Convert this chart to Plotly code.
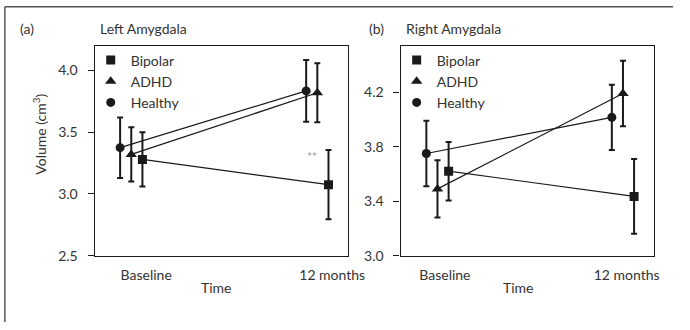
import plotly.graph_objects as go

# ---- data ----
time_labels = ["Baseline", "12 months"]
groups = ["Bipolar", "ADHD", "Healthy"]

left_bipolar = [3.28, 3.075]
left_bipolar_err = [0.22, 0.28]
left_adhd = [3.32, 3.82]
left_adhd_err = [0.22, 0.24]
left_healthy = [3.375, 3.835]
left_healthy_err = [0.245, 0.25]

right_bipolar = [3.62, 3.435]
right_bipolar_err = [0.215, 0.275]
right_adhd = [3.49, 4.19]
right_adhd_err = [0.21, 0.24]
right_healthy = [3.75, 4.015]
right_healthy_err = [0.24, 0.24]

left_ticks = [2.5, 3.0, 3.5, 4.0]
right_ticks = [3.0, 3.4, 3.8, 4.2]

# ---- style ----
FONT = "Lato, 'Open Sans', sans-serif"
INK = "#1a1a1a"
TXT = "#333333"
FS = 14
symbols = {"Bipolar": "square", "ADHD": "triangle-up", "Healthy": "circle"}
sizes = {"Bipolar": 9, "ADHD": 10, "Healthy": 9}
offsets = {"Bipolar": 0.0, "ADHD": -0.06, "Healthy": -0.12}
base_x = [0, 1]

fig = go.Figure()

panels = [
    ("x", "y", "legend", {"Bipolar": (left_bipolar, left_bipolar_err),
                          "ADHD": (left_adhd, left_adhd_err),
                          "Healthy": (left_healthy, left_healthy_err)}),
    ("x2", "y2", "legend2", {"Bipolar": (right_bipolar, right_bipolar_err),
                             "ADHD": (right_adhd, right_adhd_err),
                             "Healthy": (right_healthy, right_healthy_err)}),
]

for xa, ya, lg, data in panels:
    for g in groups:
        vals, errs = data[g]
        xs = [b + offsets[g] for b in base_x]
        fig.add_trace(go.Scatter(
            x=xs, y=vals, xaxis=xa, yaxis=ya, mode="lines+markers",
            line=dict(color=INK, width=1.2),
            marker=dict(symbol=symbols[g], size=sizes[g], color=INK),
            error_y=dict(type="data", array=errs, visible=True,
                         color=INK, thickness=2, width=3),
            showlegend=False, name=g))
    for g in groups:
        fig.add_trace(go.Scatter(
            x=[None], y=[None], xaxis=xa, yaxis=ya, mode="markers",
            marker=dict(symbol=symbols[g], size=sizes[g], color=INK),
            name=g, legend=lg, showlegend=True))

axis_common = dict(showline=True, linecolor=INK, linewidth=1.2, mirror=True,
                   showgrid=False, zeroline=False,
                   tickfont=dict(family=FONT, size=FS, color=TXT))

fig.update_layout(
    width=690, height=330, margin=dict(l=0, r=0, t=0, b=0),
    paper_bgcolor="white", plot_bgcolor="white",
    font=dict(family=FONT, size=FS, color=TXT),
    xaxis=dict(domain=[0.1406, 0.5174], range=[-0.257, 1.106],
               tickvals=[0.02, 1.02], ticktext=time_labels, ticks="", anchor="y",
               ticklabelstandoff=6, **axis_common),
    yaxis=dict(domain=[0.2061, 0.8576], range=[2.5, 4.2],
               tickvals=left_ticks, tickformat=".1f", ticks="outside",
               ticklen=6, tickcolor=INK, anchor="x", ticklabelstandoff=7,
               **axis_common),
    xaxis2=dict(domain=[0.5952, 0.9725], range=[-0.259, 1.11],
                tickvals=[-0.02, 0.96], ticktext=time_labels, ticks="", anchor="y2",
                ticklabelstandoff=6, **axis_common),
    yaxis2=dict(domain=[0.2061, 0.8576], range=[3.0, 4.54],
                tickvals=right_ticks, tickformat=".1f", ticks="outside",
                ticklen=6, tickcolor=INK, anchor="x2", ticklabelstandoff=7,
                **axis_common),
    legend=dict(x=0.1406 - 4 / 690, y=0.862, xanchor="left", yanchor="top",
                bgcolor="rgba(0,0,0,0)", font=dict(family=FONT, size=FS, color=TXT),
                itemwidth=30, tracegroupgap=0),
    legend2=dict(x=0.5952 - 4 / 690, y=0.862, xanchor="left", yanchor="top",
                 bgcolor="rgba(0,0,0,0)", font=dict(family=FONT, size=FS, color=TXT),
                 itemwidth=30, tracegroupgap=0),
)

ann = [
    dict(text="(a)", x=18 / 690, y=1 - 29 / 330, xanchor="left"),
    dict(text="Left Amygdala", x=100 / 690, y=1 - 29 / 330, xanchor="left"),
    dict(text="(b)", x=376 / 690, y=1 - 29 / 330, xanchor="left"),
    dict(text="Right Amygdala", x=414 / 690, y=1 - 29 / 330, xanchor="left"),
    dict(text="Time", x=222 / 690, y=1 - 295 / 330, xanchor="center"),
    dict(text="Time", x=532 / 690, y=1 - 295 / 330, xanchor="center"),
]
for a in ann:
    fig.add_annotation(xref="paper", yref="paper", yanchor="middle",
                       showarrow=False, font=dict(family=FONT, size=FS, color=TXT), **a)
fig.add_annotation(xref="paper", yref="paper", x=41 / 690, y=1 - 137 / 330,
                   text="Volume (cm<sup>3</sup>)", textangle=-90, showarrow=False,
                   xanchor="center", yanchor="middle",
                   font=dict(family=FONT, size=FS, color=TXT))
fig.add_annotation(xref="x", yref="y", x=0.912, y=3.3, text="**", showarrow=False,
                   font=dict(family=FONT, size=12, color="#999999"))

# outer frame (left and top edges visible)
fig.add_shape(type="line", xref="paper", yref="paper", x0=5 / 690, x1=5 / 690,
              y0=0, y1=1 - 7 / 330, line=dict(color="#555555", width=1.5))
fig.add_shape(type="line", xref="paper", yref="paper", x0=5 / 690, x1=1,
              y0=1 - 7 / 330, y1=1 - 7 / 330, line=dict(color="#555555", width=1.5))

fig.write_html("out.html")
